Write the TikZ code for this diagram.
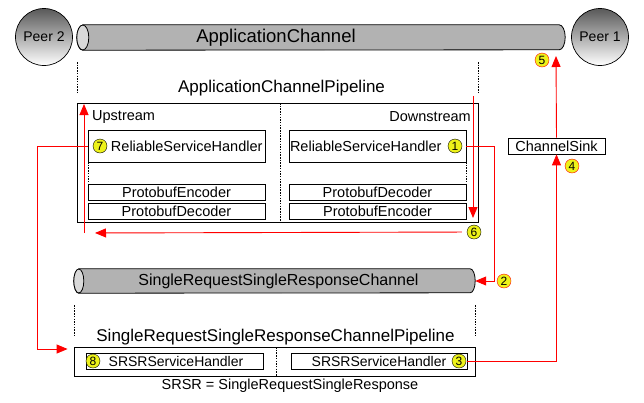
\documentclass[tikz,border=0pt]{standalone}
\usepackage{fontspec}
\setmainfont{Liberation Sans}
\usetikzlibrary{shapes, arrows.meta, positioning, calc}
\definecolor{markyellow}{rgb}{0.93, 0.95, 0.1}
\tikzset{flow/.style={red, line width=0.9pt, -{Triangle[length=11pt, width=9pt]}}}
\tikzset{pipebody/.style={draw, line width=0.8pt, fill=gray!60}}
\tikzset{pipeend/.style={draw, line width=0.8pt, fill=gray!30}}
\tikzset{stepmark/.style={circle, draw, fill=markyellow, inner sep=0pt, minimum size=14pt, font=\fontsize{12}{12}\selectfont}}
\tikzset{hbox/.style={draw, line width=0.7pt, inner sep=0pt, minimum height=16pt, font=\fontsize{14.5}{15}\selectfont}}
\tikzset{peer/.style={circle, draw, line width=0.7pt, top color=black!65, bottom color=white, minimum size=57pt, font=\fontsize{14}{15}\selectfont}}
\tikzset{guide/.style={line width=0.6pt, dash pattern=on 1.5pt off 1.2pt}}

\begin{document}
\begin{tikzpicture}[x=1pt, y=-1pt]
\useasboundingbox (0,0) rectangle (644,402);

\node[peer] (peertwo) at (44,37) {Peer 2};
\node[peer] (peerone) at (600,37) {Peer 1};

\node[minimum width=488pt, minimum height=25pt, inner sep=0pt] (appchan) at (321,37.5) {};
\draw[pipebody] ($(appchan.north west)+(6,0)$) -- ($(appchan.north east)+(-6,0)$)
  arc[start angle=90, end angle=-90, x radius=6pt, y radius=12.5pt] -- ($(appchan.south west)+(6,0)$)
  arc[start angle=270, end angle=90, x radius=6pt, y radius=12.5pt] -- cycle;
\draw[pipeend] ($(appchan.west)+(6,0)$) ellipse [x radius=6pt, y radius=12.5pt];
\node[font=\fontsize{18.5}{20}\selectfont] (appchantxt) at (276,38) {ApplicationChannel};

\draw[guide] (77,62) -- (77,93);
\draw[guide] (478,62) -- (478,93);
\node[font=\fontsize{17}{18}\selectfont] (apppipetxt) at (281.5,88) {ApplicationChannelPipeline};

\node[draw, line width=0.8pt, minimum width=401pt, minimum height=119pt, inner sep=0pt] (apppipe) at (277.5,162.5) {};
\draw[guide, line width=1pt] (280,103) -- (280,222);
\node[anchor=west, inner sep=0pt, font=\fontsize{14.5}{15}\selectfont] (uplbl) at (92,117) {Upstream};
\node[anchor=east, inner sep=0pt, font=\fontsize{14.5}{15}\selectfont] (downlbl) at (471,117) {Downstream};

\node[hbox, minimum height=32pt, text width=172pt, align=right, inner xsep=2.5pt] (relup) at (176.5,146) {ReliableServiceHandler};
\node[hbox, minimum height=32pt, text width=175pt, align=left, inner xsep=1pt] (reldown) at (377.5,146) {ReliableServiceHandler};
\draw[guide] (88,162) -- (88,184);
\draw[guide] (466,162) -- (466,184);

\node[hbox, minimum width=177pt] (encup) at (176.5,192) {ProtobufEncoder};
\node[hbox, minimum width=177pt] (decup) at (176.5,211) {ProtobufDecoder};
\node[hbox, minimum width=177pt] (decdown) at (377.5,192) {ProtobufDecoder};
\node[hbox, minimum width=177pt] (encdown) at (377.5,211) {ProtobufEncoder};

\node[minimum width=401pt, minimum height=24pt, inner sep=0pt] (srsrchan) at (274.5,281) {};
\draw[pipebody] ($(srsrchan.north west)+(5,0)$) -- ($(srsrchan.north east)+(-5,0)$)
  arc[start angle=90, end angle=-90, x radius=5pt, y radius=12pt] -- ($(srsrchan.south west)+(5,0)$)
  arc[start angle=270, end angle=90, x radius=5pt, y radius=12pt] -- cycle;
\draw[pipeend] ($(srsrchan.west)+(5,0)$) ellipse [x radius=5pt, y radius=12pt];
\node[font=\fontsize{16}{17}\selectfont] (srsrchantxt) at (278.5,281) {SingleRequestSingleResponseChannel};

\draw[guide] (74,305) -- (74,337);
\draw[guide] (475,305) -- (475,337);
\node[font=\fontsize{17}{18}\selectfont] (srsrpipetxt) at (275.5,337) {SingleRequestSingleResponseChannelPipeline};

\node[draw, line width=0.8pt, minimum width=401pt, minimum height=29pt, inner sep=0pt] (srsrpipe) at (274.5,361.5) {};
\draw[guide, line width=1pt] (276,347) -- (276,376);
\node[hbox, minimum width=177pt, font=\fontsize{14}{15}\selectfont] (srsrup) at (174.5,361) {\hspace{3pt}SRSRServiceHandler};
\node[hbox, minimum width=176pt, font=\fontsize{14}{15}\selectfont] (srsrdown) at (379,361) {SRSRServiceHandler\hspace{14pt}};
\node[font=\fontsize{14.5}{15}\selectfont] (srsrnote) at (290,386) {SRSR = SingleRequestSingleResponse};

\node[hbox, minimum width=97pt] (sink) at (556.5,146) {ChannelSink};

\coordinate (dntop) at (473,96);
\coordinate (dnbot) at (473,218);
\coordinate (upbot) at (84,233);
\coordinate (uptop) at (84,104);
\coordinate (leftbend) at (37,349);
\coordinate (rightbend) at (494,281);
\coordinate (appin) at (556,56);

\draw[flow] (dntop) -- (dnbot);
\draw[flow] (upbot) -- (uptop);
\draw[flow] (reldown.east) -| (rightbend) -- (srsrchan.east);
\draw[flow] (srsrdown.east) -| (sink.south);
\draw[flow] (sink.north) -- (appin);
\draw[flow, shorten >=6pt] (relup.west) -| (leftbend) -- (leftbend -| srsrpipe.west);

\node[stepmark] (s1) at (455,146) {1};
\node[stepmark, draw=red] (s2) at (504,281) {2};
\node[stepmark] (s3) at (459,361) {3};
\node[stepmark, draw=red] (s4) at (572,166) {4};
\node[stepmark, draw=red] (s5) at (542,60) {5};
\node[stepmark] (s6) at (474,232) {6};
\node[stepmark] (s7) at (100,146) {7};
\node[stepmark] (s8) at (93,361) {8};

\draw[flow, shorten <=5pt, shorten >=11pt] (s6) -- (upbot);
\end{tikzpicture}
\end{document}
